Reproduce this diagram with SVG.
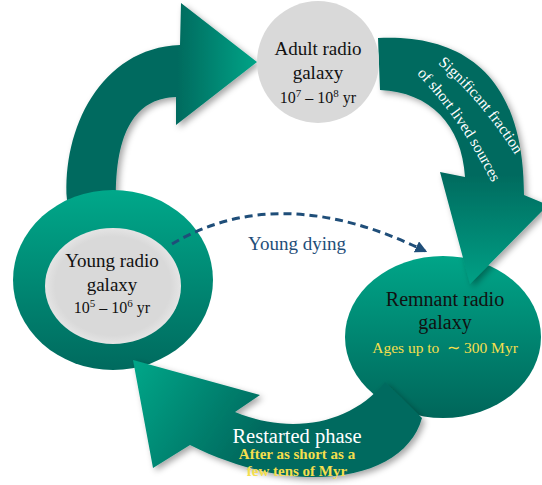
<svg xmlns="http://www.w3.org/2000/svg" width="542" height="485" viewBox="0 0 542 485">
<defs>
<style>
.lbl{font-family:"Liberation Serif","Times New Roman",serif;fill:#111;text-anchor:middle}
.yel{font-family:"Liberation Serif","Times New Roman",serif;fill:#f5df4d;text-anchor:middle}
.wht{font-family:"Liberation Serif","Times New Roman",serif;fill:#ffffff}
.gray{fill:#d9d9d9}
</style>
<filter id="sh" x="-20%" y="-20%" width="140%" height="140%">
<feDropShadow dx="3" dy="3" stdDeviation="3" flood-color="#000" flood-opacity="0.35"/>
</filter>
<radialGradient id="gGray" cx="0.5" cy="0.5" r="0.5">
<stop offset="0.85" stop-color="#d9d9d9"/><stop offset="1" stop-color="#e4e4e4"/>
</radialGradient>
<linearGradient id="gEllY" x1="0" y1="0" x2="0" y2="1">
<stop offset="0" stop-color="#00a88a"/><stop offset="1" stop-color="#006a5e"/>
</linearGradient>
<linearGradient id="gEllR" x1="0" y1="0" x2="0" y2="1">
<stop offset="0" stop-color="#00a588"/><stop offset="1" stop-color="#00665a"/>
</linearGradient>
<linearGradient id="gA1" gradientUnits="userSpaceOnUse" x1="178" y1="0" x2="257" y2="0">
<stop offset="0" stop-color="#006b5f"/><stop offset="1" stop-color="#00a487"/>
</linearGradient>
<linearGradient id="gA2" gradientUnits="userSpaceOnUse" x1="0" y1="175" x2="0" y2="284">
<stop offset="0" stop-color="#006b5f"/><stop offset="1" stop-color="#00a085"/>
</linearGradient>
<linearGradient id="gA3" gradientUnits="userSpaceOnUse" x1="140" y1="362" x2="255" y2="435">
<stop offset="0" stop-color="#00a487"/><stop offset="1" stop-color="#006b5f"/>
</linearGradient>
<marker id="ah" viewBox="0 0 10 10" refX="8" refY="5" markerWidth="4" markerHeight="4" orient="auto">
<path d="M0,0 L10,5 L0,10 Z" fill="#1f4e79"/>
</marker>
<path id="tp1" d="M 437,63 Q 483,102 517,158"/>
<path id="tp2" d="M 416,73 Q 461,119 494,187"/>
</defs>

<g id="remnant">
<ellipse cx="443" cy="337" rx="98" ry="81" fill="url(#gEllR)"/>
<text class="lbl" x="445" y="306" font-size="20">Remnant radio</text>
<text class="lbl" x="445" y="329" font-size="20">galaxy</text>
<text class="yel" x="445" y="353" font-size="15.5" style="white-space:pre">Ages up to  ∼ 300 Myr</text>
</g>

<g id="connectors">
<path id="arrow-young-adult" filter="url(#sh)" fill="url(#gA1)" d="M 67,200 C 62,130 100,48 180,45 L 181,3 L 257,62 L 176,125 L 176,97 C 140,98 116,125 116,195 Z"/>
<path id="arrow-adult-remnant" filter="url(#sh)" fill="url(#gA2)" d="M 378,38 C 462,34 524,74 524,195 L 548,205 L 470,284 L 440,172 L 465,177 C 462,125 430,92 380,90 Z"/>
</g>

<g id="young">
<ellipse cx="113" cy="280" rx="100" ry="90" fill="url(#gEllY)"/>
<ellipse cx="113" cy="286" rx="68" ry="58" fill="url(#gGray)"/>
<text class="lbl" x="112" y="267" font-size="19">Young radio</text>
<text class="lbl" x="112" y="291" font-size="19">galaxy</text>
<text class="lbl" x="112" y="313" font-size="16">10<tspan font-size="11" dy="-6">5</tspan><tspan dy="6"> – 10</tspan><tspan font-size="11" dy="-6">6</tspan><tspan dy="6"> yr</tspan></text>
</g>

<g id="adult">
<circle class="gray" cx="318" cy="62" r="61"/>
<text class="lbl" x="318" y="55" font-size="19">Adult radio</text>
<text class="lbl" x="318" y="79" font-size="19">galaxy</text>
<text class="lbl" x="318" y="103" font-size="16">10<tspan font-size="11" dy="-6">7</tspan><tspan dy="6"> – 10</tspan><tspan font-size="11" dy="-6">8</tspan><tspan dy="6"> yr</tspan></text>
</g>

<g id="connectors-2">
<path id="arrow-restart" filter="url(#sh)" fill="url(#gA3)" d="M 133,360 L 260,395 L 235,412 C 290,435 350,425 385,382 L 422,418 C 405,480 300,500 190,445 L 153,468 Z"/>
<path id="arrow-young-dying" d="M 172,244 Q 280,180 425,251" fill="none" stroke="#1f4e79" stroke-width="3" stroke-dasharray="8 5" marker-end="url(#ah)"/>
</g>

<g id="labels">
<text class="wht" font-size="15.5"><textPath href="#tp1" startOffset="1">Significant fraction</textPath></text>
<text class="wht" font-size="15.5"><textPath href="#tp2" startOffset="1">of short lived sources</textPath></text>
<text x="297" y="250" font-size="19" fill="#1f4e79" font-family="Liberation Serif, Times New Roman, serif" text-anchor="middle">Young dying</text>
<text class="wht" x="297" y="443" font-size="20.5" text-anchor="middle">Restarted phase</text>
<text class="yel" x="297" y="459" font-size="15" font-weight="bold">After as short as a</text>
<text class="yel" x="297" y="476" font-size="15" font-weight="bold">few tens of Myr</text>
</g>
</svg>
